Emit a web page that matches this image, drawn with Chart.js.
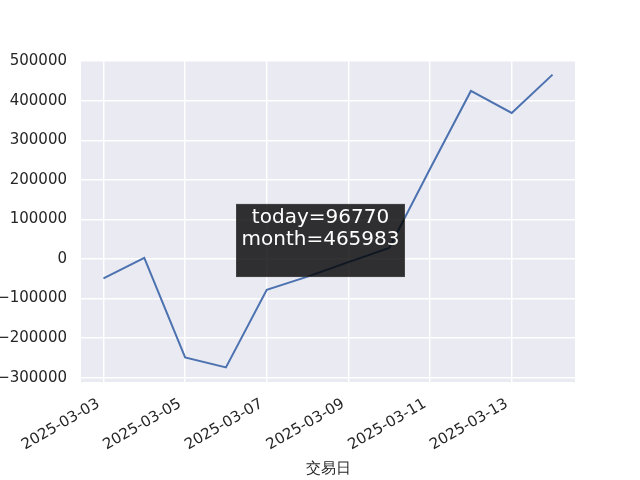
<!DOCTYPE html>
<html>
<head>
<meta charset="utf-8">
<script src="https://cdn.jsdelivr.net/npm/chart.js@4"></script>
<style>
html,body{margin:0;padding:0;background:#fff;}
#wrap{width:640px;height:480px;}
</style>
</head>
<body>
<div id="wrap"><canvas id="c" width="640" height="480"></canvas></div>
<script>
const dates = ["2025-03-03","2025-03-04","2025-03-05","2025-03-06","2025-03-07","2025-03-08","2025-03-09","2025-03-10","2025-03-11","2025-03-12","2025-03-13","2025-03-14"];
const values = [-49000, 3000, -249000, -274000, -77700, -44600, -8000, 28000, 228000, 424800, 369213, 465983];
const yTicks = [-300000, -200000, -100000, 0, 100000, 200000, 300000, 400000, 500000];
const xLabel = "交易日";
const annotationLines = ["today=96770", "month=465983"];

const FONT = "'DejaVu Sans', sans-serif";
const TXT = '#262626';

const points = values.map((v, i) => ({x: i, y: v}));

const bgPlugin = {
  id: 'bg',
  beforeDraw(chart) {
    const {ctx, chartArea: a} = chart;
    ctx.save();
    ctx.fillStyle = '#eaeaf2';
    ctx.fillRect(a.left, a.top, a.right - a.left, a.bottom - a.top);
    ctx.restore();
  }
};

const annPlugin = {
  id: 'ann',
  afterDatasetsDraw(chart) {
    const {ctx, chartArea: a} = chart;
    const w = a.right - a.left, h = a.bottom - a.top;
    const bx = a.left + w * 0.3138, by = a.top + h * 0.447;
    const bw = w * 0.342, bh = h * 0.227;
    ctx.save();
    ctx.fillStyle = 'rgba(0,0,0,0.8)';
    ctx.fillRect(bx, by, bw, bh);
    ctx.strokeStyle = 'rgba(80,80,80,0.6)';
    ctx.lineWidth = 1;
    ctx.strokeRect(bx + 0.5, by + 0.5, bw - 1, bh - 1);
    ctx.fillStyle = '#ffffff';
    ctx.font = "20px " + FONT;
    ctx.textAlign = 'center';
    ctx.textBaseline = 'middle';
    const cx = bx + bw / 2;
    ctx.fillText(annotationLines[0], cx, by + 14);
    ctx.fillText(annotationLines[1], cx, by + 36);
    ctx.restore();
  }
};

new Chart(document.getElementById('c'), {
  type: 'line',
  data: {
    datasets: [{
      data: points,
      borderColor: '#4c72b0',
      borderWidth: 2,
      pointRadius: 0,
      tension: 0,
      fill: false
    }]
  },
  options: {
    responsive: false,
    animation: false,
    events: [],
    layout: {padding: {left: 0, top: 60, right: 65, bottom: 0}},
    plugins: {legend: {display: false}, tooltip: {enabled: false}},
    scales: {
      x: {
        type: 'linear',
        min: -0.55,
        max: 11.55,
        afterBuildTicks(scale) {
          scale.ticks = dates.map((d, i) => ({value: i})).filter(t => t.value % 2 === 0);
        },
        afterFit(scale) { scale.height = 98; },
        ticks: {
          callback: (v) => dates[v],
          maxRotation: 30,
          minRotation: 30,
          autoSkip: false,
          color: TXT,
          font: {family: FONT, size: 15},
          padding: 13,
          labelOffset: -5
        },
        grid: {color: '#ffffff', lineWidth: 1.4, drawTicks: false},
        border: {display: false},
        title: {
          display: true,
          text: xLabel,
          color: TXT,
          font: {family: FONT, size: 15},
          padding: {top: 0, bottom: 2}
        }
      },
      y: {
        type: 'linear',
        min: -311000,
        max: 503000,
        afterBuildTicks(scale) {
          scale.ticks = yTicks.map(v => ({value: v}));
        },
        afterFit(scale) { scale.width = 81; },
        ticks: {
          callback: (v) => String(v).replace('-', '\u2212'),
          color: TXT,
          font: {family: FONT, size: 15},
          padding: 14
        },
        grid: {color: '#ffffff', lineWidth: 1.4, drawTicks: false},
        border: {display: false}
      }
    }
  },
  plugins: [bgPlugin, annPlugin]
});
</script>
</body>
</html>
